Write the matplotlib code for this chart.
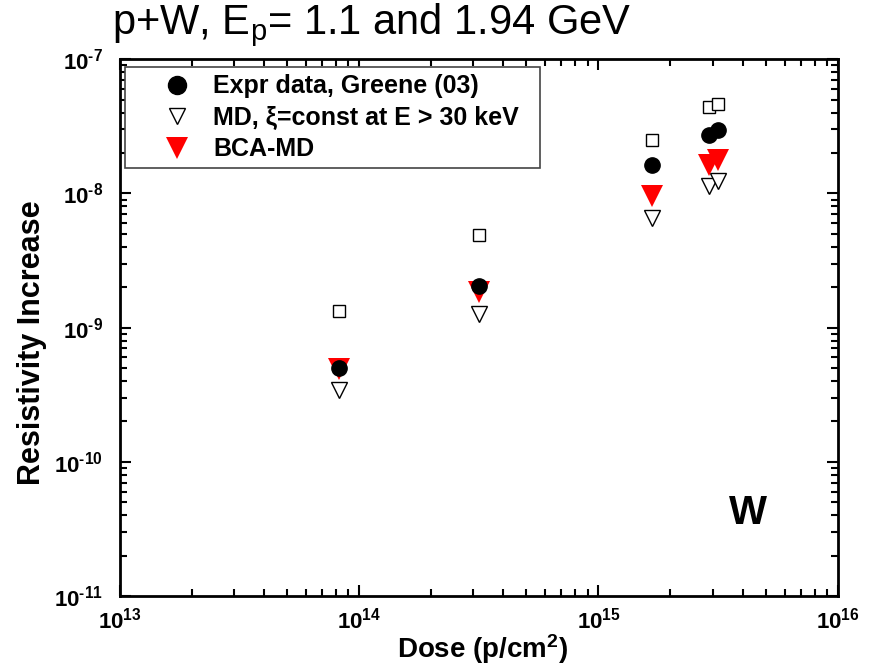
import numpy as np
import matplotlib
matplotlib.use("Agg")
import matplotlib.pyplot as plt
from matplotlib.lines import Line2D

plt.rcParams['font.family'] = ['Liberation Sans', 'DejaVu Sans']
plt.rcParams['mathtext.fontset'] = 'custom'
plt.rcParams['mathtext.rm'] = 'Liberation Sans'
plt.rcParams['mathtext.bf'] = 'Liberation Sans:bold'
plt.rcParams['mathtext.it'] = 'Liberation Sans:italic'

# === Data ===
dose_sq = [8.2e13, 3.16e14, 1.68e15, 2.9e15, 3.15e15]
res_sq = [1.33e-9, 4.9e-9, 2.52e-8, 4.4e-8, 4.67e-8]

dose_expr = [8.2e13, 3.16e14, 1.68e15, 2.9e15, 3.15e15]
res_expr = [5.0e-10, 2.05e-9, 1.62e-8, 2.72e-8, 2.96e-8]

dose_md = [8.2e13, 3.16e14, 1.68e15, 2.9e15, 3.15e15]
res_md = [3.45e-10, 1.26e-9, 6.6e-9, 1.13e-8, 1.24e-8]

dose_bca = [8.2e13, 3.16e14, 1.68e15, 2.9e15, 3.15e15]
res_bca = [4.95e-10, 1.83e-9, 9.5e-9, 1.64e-8, 1.77e-8]

xticks = [1e13, 1e14, 1e15, 1e16]
xlabels = [r'$\mathbf{10^{13}}$', r'$\mathbf{10^{14}}$', r'$\mathbf{10^{15}}$', r'$\mathbf{10^{16}}$']
yticks = [1e-11, 1e-10, 1e-9, 1e-8, 1e-7]
ylabels = ['$\\mathbf{10^{\u2010' + e + '}}$' for e in ['11', '10', '9', '8', '7']]

# === Figure ===
fig = plt.figure(figsize=(8.69, 6.66), dpi=100)
ax = fig.add_axes([0.138, 0.105, 0.826, 0.806])

ax.plot(dose_sq, res_sq, ls='none', marker='s', ms=9, mfc='white', mec='black', mew=1.0)
ax.plot(dose_md, res_md, ls='none', marker='v', ms=11.5, mfc='white', mec='black', mew=1.0)
ax.plot(dose_bca, res_bca, ls='none', marker='v', ms=16, mfc='red', mec='red', mew=0)
ax.plot(dose_expr, res_expr, ls='none', marker='o', ms=11, mfc='black', mec='black')

ax.set_xscale('log')
ax.set_yscale('log')
ax.set_xlim(1e13, 1e16)
ax.set_ylim(1e-11, 1e-7)

ax.set_xticks(xticks)
ax.set_xticklabels(xlabels)
ax.set_yticks(yticks)
ax.set_yticklabels(ylabels)

ax.tick_params(which='both', direction='in', top=True, right=True, width=1.5)
ax.tick_params(which='major', length=8, labelsize=16)
ax.tick_params(axis='x', which='major', pad=8)
ax.tick_params(axis='y', which='major', pad=12)
ax.tick_params(which='minor', length=5)
for s in ax.spines.values():
    s.set_linewidth(2)

# legend
handles = [
    Line2D([], [], ls='none', marker='o', ms=13, mfc='black', mec='black'),
    Line2D([], [], ls='none', marker='v', ms=12, mfc='white', mec='black', mew=1.0),
    Line2D([], [], ls='none', marker='v', ms=16, mfc='red', mec='red', mew=0),
]
labels = ['Expr data, Greene (03)', 'MD, ξ=const at E > 30 keV', 'BCA-MD']
leg = ax.legend(handles, labels, loc='upper left', mode='expand',
                bbox_to_anchor=(0.007, 0.6, 0.578, 0.385),
                frameon=True, fancybox=False, edgecolor='#444444', framealpha=1,
                prop={'weight': 'bold', 'size': 18}, handletextpad=-0.36,
                borderpad=0.28, labelspacing=0.3, handlelength=3.6, borderaxespad=0)
leg.get_frame().set_linewidth(1.2)

ax.text(0.875, 0.155, 'W', transform=ax.transAxes, fontsize=29, fontweight='bold',
        ha='center', va='center')

fig.text(0.129, 0.962, r'p+W, E$_\mathrm{p}$= 1.1 and 1.94 GeV', fontsize=30,
         ha='left', va='center')
fig.text(0.037, 0.485, 'Resistivity Increase', rotation=90, fontsize=22,
         fontweight='bold', ha='center', va='center')
fig.text(0.555, 0.025, r'Dose (p/cm$^\mathbf{2}$)', fontsize=20, fontweight='bold',
         ha='center', va='center')

fig.savefig('out.png', dpi=100)
